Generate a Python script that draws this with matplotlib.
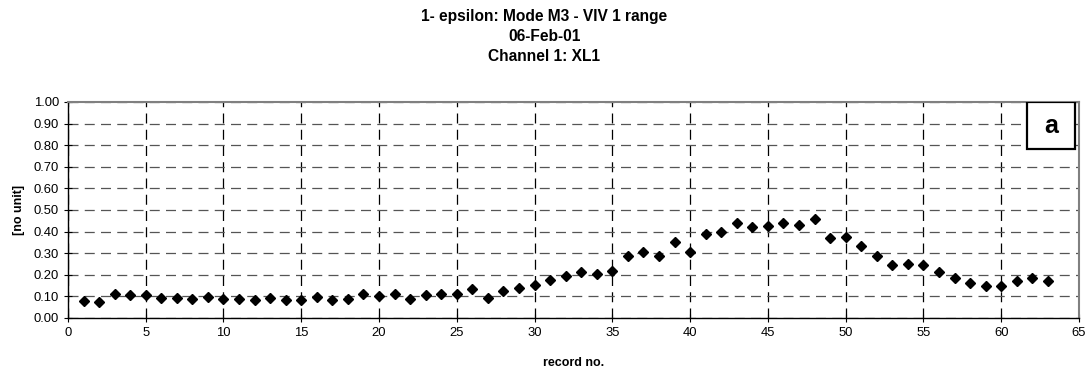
import matplotlib
matplotlib.use("Agg")
import matplotlib.pyplot as plt
from matplotlib.patches import Rectangle
import numpy as np

plt.rcParams["font.family"] = ["Liberation Sans", "DejaVu Sans"]

title_lines = ["1- epsilon: Mode M3 - VIV 1 range", "06-Feb-01", "Channel 1: XL1"]

record_no = np.arange(1, 64)
epsilon = [0.08, 0.075, 0.11, 0.105, 0.105, 0.092, 0.092, 0.088, 0.097, 0.088,
           0.088, 0.082, 0.092, 0.082, 0.082, 0.097, 0.082, 0.09, 0.112, 0.104,
           0.112, 0.088, 0.108, 0.112, 0.112, 0.135, 0.092, 0.126, 0.141, 0.151,
           0.174, 0.195, 0.214, 0.206, 0.218, 0.289, 0.306, 0.289, 0.353, 0.306,
           0.387, 0.40, 0.438, 0.419, 0.427, 0.442, 0.432, 0.458, 0.370, 0.376,
           0.333, 0.289, 0.246, 0.252, 0.246, 0.214, 0.186, 0.163, 0.146, 0.146,
           0.171, 0.186, 0.171]

xticks = np.arange(0, 66, 5)
yticks = np.arange(0, 1.01, 0.1)

fig = plt.figure(figsize=(10.89, 3.75), dpi=100)
ax = fig.add_axes([0.0624, 0.152, 0.9284, 0.576])

ax.plot(record_no, epsilon, linestyle="none", marker="D", markersize=5.3,
        color="black", zorder=3, clip_on=False)

ax.set_xlim(0, 65)
ax.set_ylim(0, 1.0)
ax.set_xticks(xticks)
ax.set_yticks(yticks)
ax.set_yticklabels([f"{v:.2f}" for v in yticks])
ax.tick_params(direction="inout", length=6, width=0.8, labelsize=9.4, colors="black")

ax.xaxis.grid(True, color="black", linestyle=(0, (8, 5)), linewidth=0.9, zorder=0)
ax.yaxis.grid(True, color="#555555", linestyle=(0, (8, 5)), linewidth=0.9, zorder=0)

for side in ["left", "bottom"]:
    ax.spines[side].set_color("black")
    ax.spines[side].set_linewidth(1.0)
for side in ["top", "right"]:
    ax.spines[side].set_color("#808080")
    ax.spines[side].set_linewidth(1.5)

ax.set_xlabel("record no.", fontsize=9, fontweight="bold", labelpad=13)
ax.set_ylabel("[no unit]", fontsize=9, fontweight="bold", labelpad=6)

# panel label box
ax.add_patch(Rectangle((0.949, 0.782), 0.047, 0.218, transform=ax.transAxes,
                       facecolor="white", edgecolor="black", linewidth=1.6, zorder=5))
ax.text(0.9725, 0.891, "a", transform=ax.transAxes, ha="center", va="center",
        fontsize=18, fontweight="bold", zorder=6)

for i, line in enumerate(title_lines):
    fig.text(0.5, 1 - (16 + 20.2 * i) / 375, line, ha="center", va="center",
             fontsize=11.2, fontweight="bold")

fig.savefig("out.png", dpi=100)
